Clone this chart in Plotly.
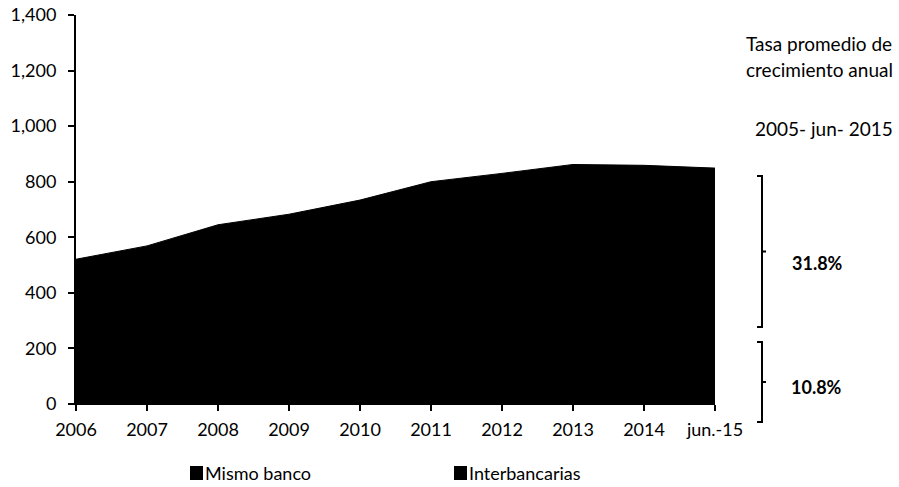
import plotly.graph_objects as go

categories = ["2006", "2007", "2008", "2009", "2010", "2011", "2012", "2013", "2014", "jun.-15"]
mismo_banco = [180, 195, 205, 210, 215, 220, 220, 225, 225, 225]
interbancarias = [341, 374, 440, 473, 519, 580, 610, 637, 634, 624]
y_ticks = [0, 200, 400, 600, 800, 1000, 1200, 1400]
rates = {"Interbancarias": "31.8%", "Mismo banco": "10.8%"}

FONT = "Lato"
W, H = 899, 487
L, R, T, B = 76, 184, 15, 83
pw, ph = W - L - R, H - T - B

def px(xp):
    return (xp - L) / pw

def py(yp):
    return (H - B - yp) / ph

x = list(range(len(categories)))
fig = go.Figure()
fig.add_trace(go.Scatter(x=x, y=mismo_banco, name="Mismo banco", stackgroup="a",
                         mode="lines", line=dict(color="black", width=2),
                         fillcolor="black", showlegend=False))
fig.add_trace(go.Scatter(x=x, y=interbancarias, name="Interbancarias", stackgroup="a",
                         mode="lines", line=dict(color="black", width=1),
                         fillcolor="black", showlegend=False))

shapes = []
def bracket(top, bottom, xl=757, xr=762, nub=766):
    mid = (top + bottom) / 2
    path = (f"M {px(xl)} {py(top)} L {px(xr)} {py(top)} L {px(xr)} {py(bottom)} L {px(xl)} {py(bottom)} "
            f"M {px(xr)} {py(mid)} L {px(nub)} {py(mid)}")
    shapes.append(dict(type="path", xref="paper", yref="paper", path=path,
                       line=dict(color="black", width=2)))

def swatch(x0, yc, size=13):
    shapes.append(dict(type="rect", xref="paper", yref="paper",
                       x0=px(x0), x1=px(x0 + size), y0=py(yc - size / 2 - 0.5), y1=py(yc + size / 2 + 0.5),
                       fillcolor="black", line=dict(width=0)))

bracket(176, 327)
bracket(342, 422)
swatch(190, 473)
swatch(454, 473)

def ann(xp, yp, text, size, anchor="left"):
    return dict(x=px(xp), y=py(yp), xref="paper", yref="paper", text=text,
                showarrow=False, xanchor=anchor, yanchor="middle",
                font=dict(family=FONT, size=size, color="black"))

annotations = [
    ann(744, 43, "Tasa promedio de", 19),
    ann(744, 69, "crecimiento anual", 19),
    ann(895, 128, "2005- jun- 2015", 19, "right"),
    ann(817, 263, "<b>" + rates["Interbancarias"] + "</b>", 18, "center"),
    ann(816, 387, "<b>" + rates["Mismo banco"] + "</b>", 18, "center"),
    ann(203, 473, "Mismo banco", 18),
    ann(467, 473, "Interbancarias", 18),
]

fig.update_layout(
    width=W, height=H,
    margin=dict(l=L, r=R, t=T, b=B, autoexpand=False),
    paper_bgcolor="white", plot_bgcolor="white",
    showlegend=False,
    shapes=shapes, annotations=annotations,
    xaxis=dict(range=[0, len(categories) - 1], tickvals=x, ticktext=categories,
               automargin=False,
               showgrid=False, zeroline=False, showline=True, linecolor="black", linewidth=1,
               ticks="outside", ticklen=6, tickwidth=2, tickcolor="black",
               ticklabelstandoff=3,
               tickfont=dict(family=FONT, size=18, color="black")),
    yaxis=dict(range=[0, 1400], tickvals=y_ticks, tickformat=",",
               automargin=False,
               showgrid=False, zeroline=False, showline=True, linecolor="black", linewidth=2,
               ticks="outside", ticklen=6, tickwidth=2, tickcolor="black",
               ticklabelstandoff=8,
               tickfont=dict(family=FONT, size=18, color="black")),
)

fig.write_html("out.html", config={"displayModeBar": False},
               post_script="document.body.style.margin='0';document.body.style.overflow='hidden';")
